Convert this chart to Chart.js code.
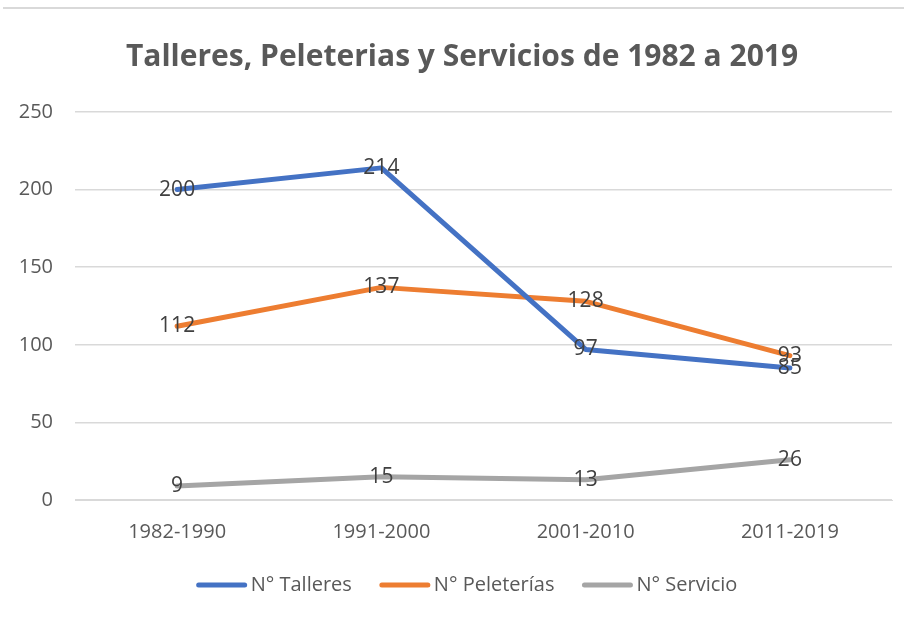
<!DOCTYPE html>
<html><head><meta charset="utf-8">
<script src="https://cdn.jsdelivr.net/npm/chart.js@4.4.1/dist/chart.umd.min.js"></script>
<style>html,body{margin:0;padding:0;background:#fff}#wrap{width:904px;height:624px;position:relative}</style>
</head><body><div id="wrap"><canvas id="c" width="904" height="624"></canvas></div>
<script>
const categories = ["1982-1990","1991-2000","2001-2010","2011-2019"];
const talleres = [200,214,97,85];
const peleterias = [112,137,128,93];
const servicio = [9,15,13,26];
const seriesNames = ["N° Talleres","N° Peleterías","N° Servicio"];
const yTicks = [0,50,100,150,200,250];
const titleText = 'Talleres, Peleterias y Servicios de 1982 a 2019';
const FONT = '"Open Sans", "Noto Sans", sans-serif';

const labelPlugin = {
  id:'pointLabels',
  afterDatasetsDraw(chart){
    const ctx = chart.ctx;
    ctx.save();
    ctx.font = '21px ' + FONT;
    ctx.fillStyle = '#404040';
    ctx.textAlign = 'center';
    ctx.textBaseline = 'middle';
    chart.data.datasets.forEach((ds,i)=>{
      const meta = chart.getDatasetMeta(i);
      meta.data.forEach((pt,j)=>{
        ctx.fillText(String(ds.data[j]), pt.x, pt.y);
      });
    });
    ctx.restore();
  }
};
const framePlugin = {
  id:'frame',
  beforeDraw(chart){
    const ctx = chart.ctx;
    ctx.save();
    ctx.fillStyle='#fff';ctx.fillRect(0,0,chart.width,chart.height);
    ctx.strokeStyle='#d9d9d9';ctx.lineWidth=2;
    ctx.beginPath();ctx.moveTo(3,8);ctx.lineTo(chart.width,8);ctx.stroke();
    ctx.fillStyle='#595959';
    ctx.font='bold 30px '+FONT;
    ctx.textAlign='center';ctx.textBaseline='middle';
    ctx.fillText(titleText, 462, 57);
    ctx.restore();
  },
  afterDraw(chart){
    const ctx = chart.ctx;
    ctx.save();
    ctx.font = '20px ' + FONT;
    ctx.textBaseline='middle';ctx.textAlign='left';
    const lineW=50, gap=4, spacing=28, y=585;
    const items = chart.data.datasets.map(d=>({text:d.label,color:d.borderColor,w:ctx.measureText(d.label).width}));
    const total = items.reduce((s,it)=>s+lineW+gap+it.w,0)+spacing*(items.length-1);
    let x = 467 - total/2;
    items.forEach(it=>{
      ctx.strokeStyle=it.color;ctx.lineWidth=5;ctx.lineCap='round';
      ctx.beginPath();ctx.moveTo(x+2,y);ctx.lineTo(x+lineW-2,y);ctx.stroke();
      ctx.fillStyle='#595959';
      ctx.fillText(it.text,x+lineW+gap,y);
      x += lineW+gap+it.w+spacing;
    });
    ctx.restore();
  }
};

new Chart(document.getElementById('c'),{
  type:'line',
  data:{labels:categories,datasets:[
    {label:seriesNames[0],data:talleres,borderColor:'#4472C4',backgroundColor:'#4472C4'},
    {label:seriesNames[1],data:peleterias,borderColor:'#ED7D31',backgroundColor:'#ED7D31'},
    {label:seriesNames[2],data:servicio,borderColor:'#A5A5A5',backgroundColor:'#A5A5A5'}
  ]},
  options:{
    responsive:false,animation:false,
    elements:{line:{borderWidth:5,tension:0,borderCapStyle:'round',borderJoinStyle:'round'},point:{radius:0,hoverRadius:0}},
    layout:{padding:{left:10,right:12,top:112,bottom:60}},
    plugins:{
      title:{display:false},
      legend:{display:false},
      tooltip:{enabled:false}
    },
    scales:{
      x:{offset:true,grid:{display:false,drawTicks:false},border:{color:'#d9d9d9',width:1},
        ticks:{color:'#595959',padding:20,maxRotation:0,font:{family:FONT,size:20}}},
      y:{min:0,max:250,afterBuildTicks(s){s.ticks=yTicks.map(v=>({value:v}));},
        afterFit(s){s.width=65;},
        grid:{color:'#d9d9d9',lineWidth:1.5,drawTicks:false},border:{display:false},
        ticks:{color:'#595959',padding:22,font:{family:FONT,size:20}}}
    }
  },
  plugins:[labelPlugin,framePlugin]
});
</script></body></html>
